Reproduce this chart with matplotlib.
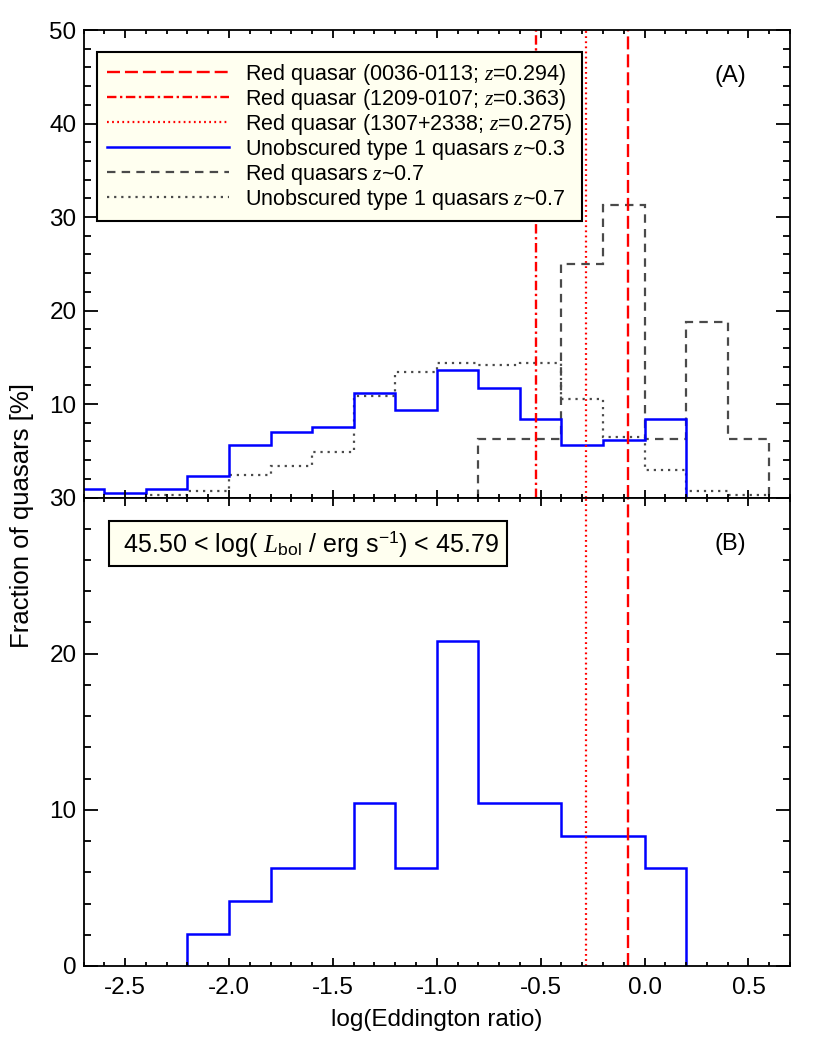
import matplotlib
matplotlib.use("Agg")
import matplotlib.pyplot as plt
from matplotlib.lines import Line2D
from matplotlib.ticker import MultipleLocator, FormatStrFormatter

plt.rcParams['font.family'] = ['Liberation Sans', 'DejaVu Sans']
plt.rcParams['mathtext.fontset'] = 'custom'
plt.rcParams['mathtext.rm'] = 'Liberation Sans'
plt.rcParams['mathtext.it'] = 'Liberation Serif:italic'
plt.rcParams['axes.unicode_minus'] = False

# panel A: unobscured type 1 quasars z~0.3 (blue)
edges_a_blue = [-2.8, -2.6, -2.4, -2.2, -2.0, -1.8, -1.6, -1.4, -1.2, -1.0,
                -0.8, -0.6, -0.4, -0.2, 0.0, 0.2]
frac_a_blue = [0.93, 0.46, 0.93, 2.32, 5.6, 7.0, 7.5, 11.2, 9.4, 13.6,
               11.7, 8.4, 5.6, 6.1, 8.4]

# red quasars z~0.7 (grey dashed)
edges_red07 = [-0.8, -0.6, -0.4, -0.2, 0.0, 0.2, 0.4, 0.6]
frac_red07 = [6.25, 6.25, 25.0, 31.25, 6.25, 18.75, 6.25]

# unobscured type 1 quasars z~0.7 (grey dotted)
edges_t1_07 = [-2.4, -2.2, -2.0, -1.8, -1.6, -1.4, -1.2, -1.0, -0.8, -0.6,
               -0.4, -0.2, 0.0, 0.2, 0.4, 0.6]
frac_t1_07 = [0.29, 0.71, 2.4, 3.4, 4.9, 10.9, 13.4, 14.4, 14.2, 14.4,
              10.5, 6.5, 2.9, 0.71, 0.29]

# panel B: 45.50 < log Lbol < 45.79
edges_b = [-2.2, -2.0, -1.8, -1.6, -1.4, -1.2, -1.0, -0.8, -0.6, -0.4,
           -0.2, 0.0, 0.2]
frac_b = [2.08, 4.17, 6.25, 6.25, 10.42, 6.25, 20.83, 10.42, 10.42, 8.33,
          8.33, 6.25]

# individual red quasars
x_0036 = -0.08
x_1209 = -0.52
x_1307 = -0.28

legend_labels = [
    'Red quasar (0036-0113; $z$=0.294)',
    'Red quasar (1209-0107; $z$=0.363)',
    'Red quasar (1307+2338; $z$=0.275)',
    'Unobscured type 1 quasars $z$~0.3',
    'Red quasars $z$~0.7',
    'Unobscured type 1 quasars $z$~0.7',
]

RED = '#ff0000'
BLUE = '#0000ff'
GREY = '#4a4a4a'
ls_dash = (0, (5.5, 2.1))
ls_dashdot = (0, (4, 1.5, 1, 1.5))
ls_dot = (0, (0.8, 1.5))
ls_gdash = (0, (3.8, 2.8))
ls_gdot = (0, (1, 2.2))

W, H = 830, 1039
fig = plt.figure(figsize=(W / 100, H / 100), dpi=100)
left, right, top, mid, bot = 83.5, 790, 30, 497.5, 966
ax1 = fig.add_axes([left / W, 1 - mid / H, (right - left) / W, (mid - top) / H])
ax2 = fig.add_axes([left / W, 1 - bot / H, (right - left) / W, (bot - mid) / H])

for ax in (ax1, ax2):
    ax.set_xlim(-2.7, 0.7)
    ax.xaxis.set_major_locator(MultipleLocator(0.5))
    ax.xaxis.set_minor_locator(MultipleLocator(0.1))
    ax.yaxis.set_major_locator(MultipleLocator(10))
    ax.yaxis.set_minor_locator(MultipleLocator(2))
    ax.tick_params(which='both', direction='in', top=True, right=True,
                   labelsize=17.5, width=1.3)
    ax.tick_params(axis='y', which='major', length=10, pad=5)
    ax.tick_params(axis='y', which='minor', length=5)
    ax.tick_params(axis='x', which='major', length=6, pad=8)
    ax.tick_params(axis='x', which='minor', length=3)
    for sp in ax.spines.values():
        sp.set_linewidth(1.3)

ax1.set_ylim(0, 50)
ax1.set_yticks([10, 20, 30, 40, 50])
ax1.tick_params(axis='x', labelbottom=False)
ax2.set_ylim(0, 30)
ax2.xaxis.set_major_formatter(FormatStrFormatter('%.1f'))

# panel A
ax1.stairs(frac_t1_07, edges_t1_07, color=GREY, lw=1.6, linestyle=ls_gdot)
ax1.stairs(frac_red07, edges_red07, color=GREY, lw=1.6, linestyle=ls_gdash)
ax1.stairs(frac_a_blue, edges_a_blue, color=BLUE, lw=1.8)
ax1.axvline(x_0036, color=RED, lw=1.7, linestyle=ls_dash)
ax1.axvline(x_1209, color=RED, lw=1.7, linestyle=ls_dashdot)
ax1.axvline(x_1307, color=RED, lw=1.6, linestyle=ls_dot)

handles = [
    Line2D([], [], color=RED, lw=1.7, linestyle=ls_dash),
    Line2D([], [], color=RED, lw=1.7, linestyle=ls_dashdot),
    Line2D([], [], color=RED, lw=1.6, linestyle=ls_dot),
    Line2D([], [], color=BLUE, lw=1.8),
    Line2D([], [], color=GREY, lw=1.6, linestyle=ls_gdash),
    Line2D([], [], color=GREY, lw=1.6, linestyle=ls_gdot),
]
leg = ax1.legend(handles, legend_labels, loc='upper left',
                 bbox_to_anchor=(0.019, 0.953), borderaxespad=0,
                 fontsize=15.5, handlelength=5.7, handletextpad=0.74,
                 labelspacing=0.0, borderpad=0.45, fancybox=False,
                 framealpha=1, facecolor='#fffff0', edgecolor='black')
leg.get_frame().set_linewidth(1.5)
ax1.text(0.916, 0.902, '(A)', transform=ax1.transAxes, fontsize=17,
         ha='center', va='center')

# panel B
ax2.stairs(frac_b, edges_b, color=BLUE, lw=1.8)
ax2.axvline(x_0036, color=RED, lw=1.7, linestyle=ls_dash)
ax2.axvline(x_1307, color=RED, lw=1.6, linestyle=ls_dot)
ax2.text(0.318, 0.901,
         r' 45.50 < log( $L_{\mathrm{bol}}$ / erg s$^{\mathrm{-1}}$) < 45.79 ',
         transform=ax2.transAxes, fontsize=18, ha='center', va='center',
         bbox=dict(boxstyle='square,pad=0.3', facecolor='#fffff0',
                   edgecolor='black', linewidth=1.5))
ax2.text(0.916, 0.901, '(B)', transform=ax2.transAxes, fontsize=17,
         ha='center', va='center')

fig.text(22 / W, 1 - 515 / H, 'Fraction of quasars [%]', rotation=90,
         fontsize=18.5, ha='center', va='center')
fig.text((left + right) / 2 / W, 1 - 1020 / H, 'log(Eddington ratio)',
         fontsize=17.5, ha='center', va='center')

fig.savefig('out.png', dpi=100)
